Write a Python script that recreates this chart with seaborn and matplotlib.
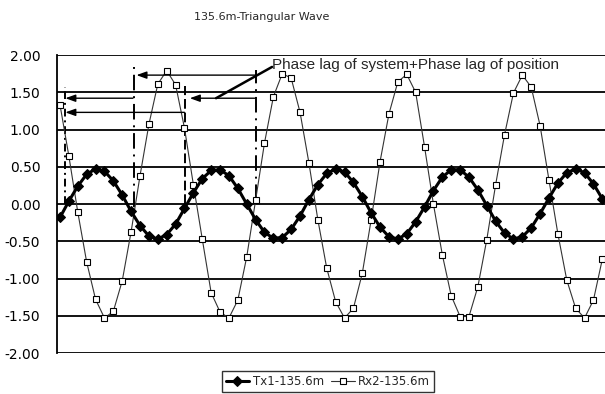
import matplotlib

matplotlib.use('Agg')
import matplotlib.pyplot as plt
import seaborn as sns
import pandas as pd

# Значения (62 отсчёта)
tx1_values = [
    -0.18, 0.04, 0.24, 0.40, 0.47, 0.44, 0.31, 0.12, -0.10, -0.29,
    -0.43, -0.47, -0.41, -0.27, -0.06, 0.15, 0.34, 0.45, 0.46, 0.38,
    0.21, 0.00, -0.21, -0.38, -0.46, -0.45, -0.34, -0.16, 0.06, 0.26,
    0.41, 0.47, 0.43, 0.29, 0.10, -0.12, -0.31, -0.44, -0.47, -0.40,
    -0.24, -0.04, 0.18, 0.36, 0.46, 0.46, 0.36, 0.19, -0.02, -0.23,
    -0.39, -0.47, -0.44, -0.32, -0.13, 0.08, 0.28, 0.42, 0.47, 0.42,
    0.27, 0.07,
]
rx2_values = [
    1.33, 0.64, -0.11, -0.78, -1.28, -1.53, -1.44, -1.03, -0.37, 0.38,
    1.07, 1.61, 1.79, 1.60, 1.02, 0.26, -0.47, -1.19, -1.45, -1.53,
    -1.29, -0.71, 0.05, 0.82, 1.44, 1.75, 1.69, 1.23, 0.55, -0.21,
    -0.86, -1.31, -1.53, -1.40, -0.93, -0.21, 0.57, 1.21, 1.64, 1.74,
    1.50, 0.77, 0.00, -0.68, -1.23, -1.51, -1.51, -1.11, -0.48, 0.26,
    0.93, 1.49, 1.73, 1.57, 1.05, 0.32, -0.40, -1.02, -1.40, -1.53,
    -1.29, -0.74,
]
y_ticks = [-2.0, -1.5, -1.0, -0.5, 0.0, 0.5, 1.0, 1.5, 2.0]
series_names = ['Tx1-135.6m', 'Rx2-135.6m']
title_text = '135.6m-Triangular Wave'
note_text = 'Phase lag of system+Phase lag of position'

# Разметка фазовых сдвигов (в координатах данных)
v_lines = [(0.6, 0.0, 1.57, (0, (4, 2, 1, 2))), (8.36, -0.04, 1.91, (0, (8, 3, 1, 3))),
           (14.1, 0.0, 1.59, (0, (5, 2))), (22.05, 0.05, 1.80, (0, (8, 3, 1, 3)))]
h_arrows = [(0.6, 8.2, 1.42), (0.6, 14.0, 1.23), (8.6, 22.05, 1.73), (14.6, 21.9, 1.42)]

df = pd.DataFrame({'t': range(len(tx1_values)), 'tx1': tx1_values, 'rx2': rx2_values})

sns.set_theme(style="white")
plt.rcParams['font.family'] = ['DejaVu Sans']
plt.rcParams['axes.unicode_minus'] = False

fig = plt.figure(figsize=(6.05, 3.94), dpi=100)
ax = fig.add_axes([0.0942, 0.104, 0.9058, 0.7564])

# Сетка по оси Y
for yv in y_ticks:
    ax.axhline(yv, color='black', lw=1.3, zorder=1)

sns.lineplot(data=df, x='t', y='rx2', ax=ax, color='#333333', lw=0.8,
             marker='s', markersize=5, markerfacecolor='white',
             markeredgecolor='black', markeredgewidth=0.8,
             label=series_names[1], zorder=3)
sns.lineplot(data=df, x='t', y='tx1', ax=ax, color='black', lw=2.2,
             marker='D', markersize=4.8, markerfacecolor='black',
             markeredgecolor='black', label=series_names[0], zorder=4)

for x, y0, y1, ls in v_lines:
    ax.plot([x, x], [y0, y1], color='black', lw=1.4, linestyle=ls, zorder=2)

for x0, x1, y in h_arrows:
    ax.annotate('', xy=(x0, y), xytext=(x1, y),
                arrowprops=dict(arrowstyle='-|>,head_length=0.5,head_width=0.18',
                                color='black', lw=1.0, shrinkA=0, shrinkB=0))

ax.annotate('', xy=(17.55, 1.42), xytext=(23.85, 1.84),
            arrowprops=dict(arrowstyle='-', color='black', lw=1.8,
                            shrinkA=0, shrinkB=0))
ax.text(23.85, 1.87, note_text, fontsize=11, family='Liberation Sans',
        ha='left', va='center')

ax.set_xlim(-0.34, 61.3)
ax.set_ylim(-2.0, 2.0)
ax.set_yticks(y_ticks)
ax.set_yticklabels([f'{v:.2f}' for v in y_ticks])
ax.set_xticks([])
ax.set_xlabel('')
ax.set_ylabel('')
ax.tick_params(axis='y', length=0, pad=12, labelsize=10, colors='black')

for side in ['top', 'right', 'bottom']:
    ax.spines[side].set_visible(False)
ax.spines['left'].set_color('black')
ax.spines['left'].set_linewidth(1.3)

handles, labels = ax.get_legend_handles_labels()
order = [labels.index(n) for n in series_names]
ax.legend([handles[i] for i in order], [labels[i] for i in order],
          loc='center', bbox_to_anchor=(0.542, 0.032), bbox_transform=fig.transFigure,
          ncol=2, frameon=True, fancybox=False, edgecolor='black', fontsize=8.5,
          handlelength=2.0, handletextpad=0.3, columnspacing=0.6, borderpad=0.35,
          borderaxespad=0)
ax.get_legend().get_frame().set_linewidth(1.0)

fig.text(0.433, 0.957, title_text, fontsize=8, ha='center', va='center')

fig.savefig('out.png', dpi=100)
plt.close(fig)
